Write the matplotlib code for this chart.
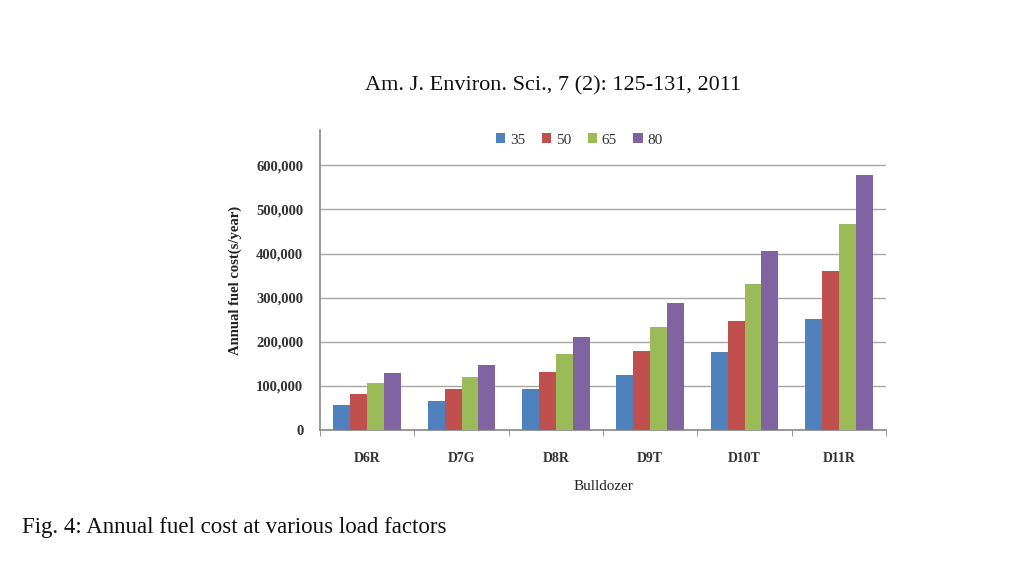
import matplotlib
matplotlib.use("Agg")
import matplotlib.pyplot as plt
import numpy as np
from matplotlib.ticker import FuncFormatter

categories = ["D6R", "D7G", "D8R", "D9T", "D10T", "D11R"]
series_names = ["35", "50", "65", "80"]
load_35 = [56000, 66000, 94000, 125000, 177000, 252000]
load_50 = [81000, 93000, 132000, 180000, 248000, 360000]
load_65 = [106000, 121000, 172000, 234000, 330000, 468000]
load_80 = [130000, 147000, 211000, 288000, 405000, 578000]
yticks = [0, 100000, 200000, 300000, 400000, 500000, 600000]

colors = ["#4F81BD", "#C0504D", "#9BBB59", "#8064A2"]
serif = ["Liberation Serif", "DejaVu Serif"]

fig = plt.figure(figsize=(10.24, 5.62), dpi=100)
ax = fig.add_axes([320/1024, 1-430/562, 566/1024, 300/562])

x = np.arange(len(categories))
w = 0.18
data = [load_35, load_50, load_65, load_80]
for i, (vals, c, name) in enumerate(zip(data, colors, series_names)):
    ax.bar(x + (i - 1.5) * w, vals, width=w, color=c, label=name, zorder=3)

ax.set_xlim(-0.5, len(categories) - 0.5)
ax.set_ylim(0, 680000)
ax.set_yticks(yticks)
ax.yaxis.set_major_formatter(FuncFormatter(lambda v, p: f"{int(v):,}"))
ax.grid(axis="y", color="#A6A6A6", linewidth=1.0, zorder=0)
ax.set_xticks(x)
ax.set_xticklabels(categories, fontfamily=serif, fontweight="bold", fontsize=10, color="#333333")
ax.set_xticks(np.arange(len(categories) + 1) - 0.5, minor=True)
ax.tick_params(axis="x", which="major", length=0, pad=16)
ax.tick_params(axis="x", which="minor", length=4, color="#888888", direction="out")
ax.tick_params(axis="y", length=0, pad=12, labelsize=10.5, colors="#333333")
for lab in ax.get_yticklabels():
    lab.set_fontfamily(serif)
    lab.set_fontweight("bold")
for s in ["top", "right"]:
    ax.spines[s].set_visible(False)
ax.spines["left"].set_color("#888888")
ax.spines["bottom"].set_color("#888888")
ax.spines["left"].set_linewidth(1.2)
ax.spines["bottom"].set_linewidth(1.2)

ax.set_ylabel("Annual fuel cost(s/year)", fontfamily=serif, fontweight="bold",
              fontsize=10.5, color="#222222", labelpad=10)
ax.set_xlabel("Bulldozer", fontfamily=serif, fontsize=11, color="#222222", labelpad=11)

leg = ax.legend(loc="center", bbox_to_anchor=(0.458, 0.967), ncol=4, frameon=False,
                prop={"family": serif, "size": 11}, handlelength=0.6, handleheight=0.6,
                handletextpad=0.3, columnspacing=1.1)
for t in leg.get_texts():
    t.set_color("#333333")

fig.text(553/1024, 1-86/562, "Am. J. Environ. Sci., 7 (2): 125-131, 2011",
         ha="center", va="center", fontfamily=serif, fontsize=16, color="#111111")
fig.text(22/1024, 1-527/562, "Fig. 4: Annual fuel cost at various load factors",
         ha="left", va="center", fontfamily=serif, fontsize=16.5, color="#111111")

fig.savefig("out.png", dpi=100)
